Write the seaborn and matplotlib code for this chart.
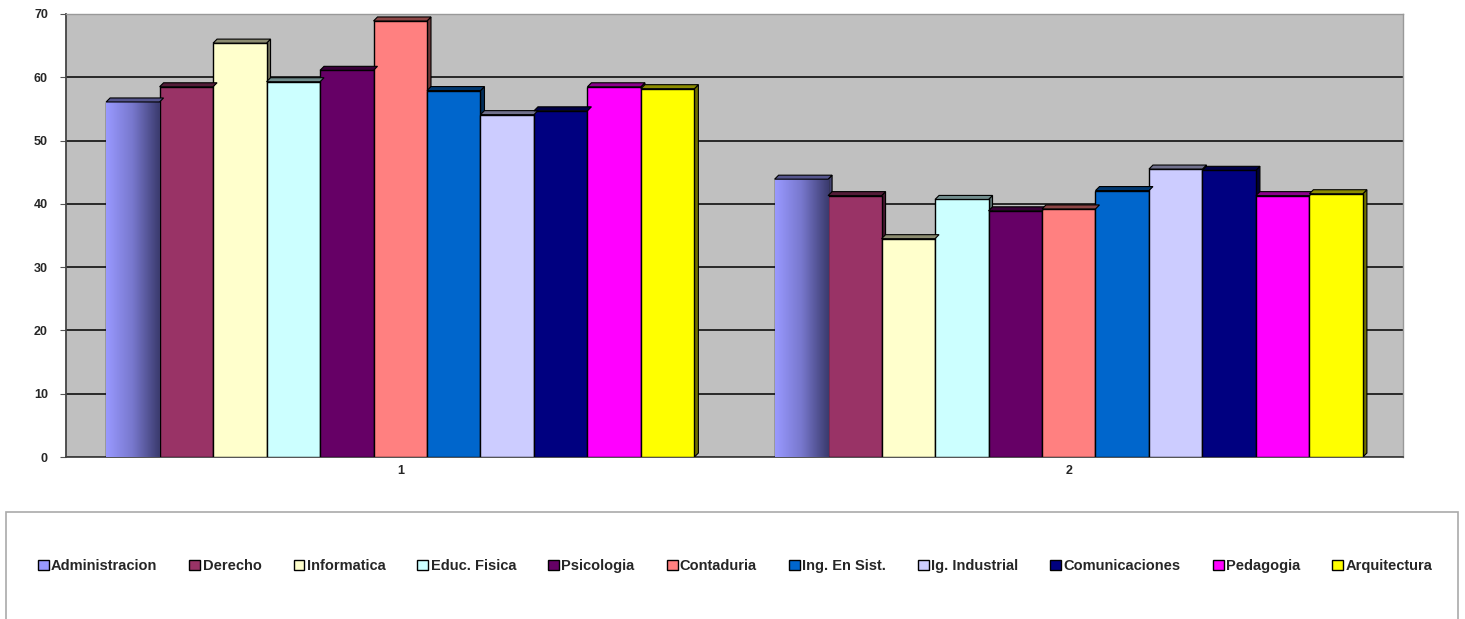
import numpy as np
import pandas as pd
import matplotlib
matplotlib.use("Agg")
import matplotlib.pyplot as plt
import seaborn as sns
from matplotlib.patches import Polygon, Rectangle
from matplotlib.colors import LinearSegmentedColormap, to_rgb

careers = ["Administracion", "Derecho", "Informatica", "Educ. Fisica", "Psicologia",
           "Contaduria", "Ing. En Sist.", "Ig. Industrial", "Comunicaciones",
           "Pedagogia", "Arquitectura"]
categories = ["1", "2"]
values_1 = [56.1, 58.5, 65.4, 59.3, 61.1, 68.9, 57.9, 54.1, 54.7, 58.5, 58.2]
values_2 = [43.9, 41.3, 34.5, 40.7, 38.9, 39.2, 42.1, 45.5, 45.3, 41.3, 41.6]
colors = ["#9999FF", "#993366", "#FFFFCC", "#CCFFFF", "#660066", "#FF8080",
          "#0066CC", "#CCCCFF", "#000080", "#FF00FF", "#FFFF00"]
yticks = [0, 10, 20, 30, 40, 50, 60, 70]

df = pd.DataFrame({
    "cat": categories[0:1] * len(careers) + categories[1:2] * len(careers),
    "career": careers + careers,
    "value": values_1 + values_2,
})

sns.set_style("white")
plt.rcParams["font.family"] = ["Liberation Sans", "DejaVu Sans"]

fig = plt.figure(figsize=(14.65, 6.19), dpi=100)
ax = fig.add_axes([66 / 1465, 1 - 457 / 619, (1403 - 66) / 1465, (457 - 14) / 619])
ax.set_facecolor("#C0C0C0")

sns.barplot(data=df, x="cat", y="value", hue="career", hue_order=careers,
            order=categories, palette=colors, width=0.88, dodge=True,
            saturation=1, edgecolor="black", linewidth=1.0, ax=ax, legend=True,
            zorder=3)

ax.set_ylim(0, 70)
ax.set_xlim(-0.5, 1.5)
ax.set_yticks(yticks)
ax.set_yticklabels([str(t) for t in yticks], fontweight="bold", fontsize=9)
ax.set_xticks([0, 1])
ax.set_xticklabels(categories, fontweight="bold", fontsize=9)
ax.set_xlabel("")
ax.set_ylabel("")
ax.grid(axis="y", color="black", linewidth=1.1, zorder=0)
ax.set_axisbelow(True)
ax.tick_params(axis="y", length=4, color="#555555", left=True, pad=9)
ax.tick_params(axis="x", length=0, pad=6)
for s in ["left", "bottom"]:
    ax.spines[s].set_color("#444444")
    ax.spines[s].set_linewidth(1.3)
for s in ["top", "right"]:
    ax.spines[s].set_color("#999999")
    ax.spines[s].set_linewidth(1.0)

# pseudo 3D: top and side faces derived from bar geometry
fig.canvas.draw()
inv = ax.transData.inverted()
p0 = inv.transform((0, 0))
p1 = inv.transform((4, 4))
dx, dy = p1[0] - p0[0], p1[1] - p0[1]

handles, labels = ax.get_legend_handles_labels()
ax.get_legend().remove()

bars = [p for p in ax.patches if isinstance(p, Rectangle) and p.get_height() > 0]
for p in bars:
    x, w, h = p.get_x(), p.get_width(), p.get_height()
    fc = np.array(to_rgb(p.get_facecolor()))
    dark = fc * 0.55
    top = Polygon([(x, h), (x + dx, h + dy), (x + w + dx, h + dy), (x + w, h)],
                  closed=True, facecolor=dark, edgecolor="black", linewidth=0.8, zorder=3.5)
    side = Polygon([(x + w, 0), (x + w + dx, dy), (x + w + dx, h + dy), (x + w, h)],
                   closed=True, facecolor=dark * 0.8, edgecolor="black", linewidth=0.8, zorder=2.9)
    ax.add_patch(top)
    ax.add_patch(side)

# gradient for first series
grad = LinearSegmentedColormap.from_list("g", ["#9999FF", "#7777CC", "#3B3B6E"])
gimg = np.linspace(0, 1, 64).reshape(1, -1)
for p in bars:
    if np.allclose(to_rgb(p.get_facecolor()), to_rgb(colors[0])):
        x, w, h = p.get_x(), p.get_width(), p.get_height()
        im = ax.imshow(gimg, cmap=grad, aspect="auto", extent=(x, x + w, 0, h),
                       zorder=3.2, interpolation="bilinear")
        im.set_clip_path(p)
ax.set_xlim(-0.5, 1.5)
ax.set_ylim(0, 70)

# legend frame
frame = Rectangle((6 / 1465, -0.01), (1458 - 6) / 1465, 1 - 512 / 619 + 0.01,
                  transform=fig.transFigure, facecolor="white", edgecolor="#AAAAAA",
                  linewidth=1.2)
fig.patches.append(frame)
fig.legend(handles, labels, loc="center", bbox_to_anchor=(735 / 1465, 1 - 566 / 619),
           ncol=len(careers), frameon=False, handlelength=0.75, handleheight=0.75,
           handletextpad=0.15, columnspacing=2.2,
           prop={"weight": "bold", "size": 10.5})

fig.savefig("out.png", dpi=100)
